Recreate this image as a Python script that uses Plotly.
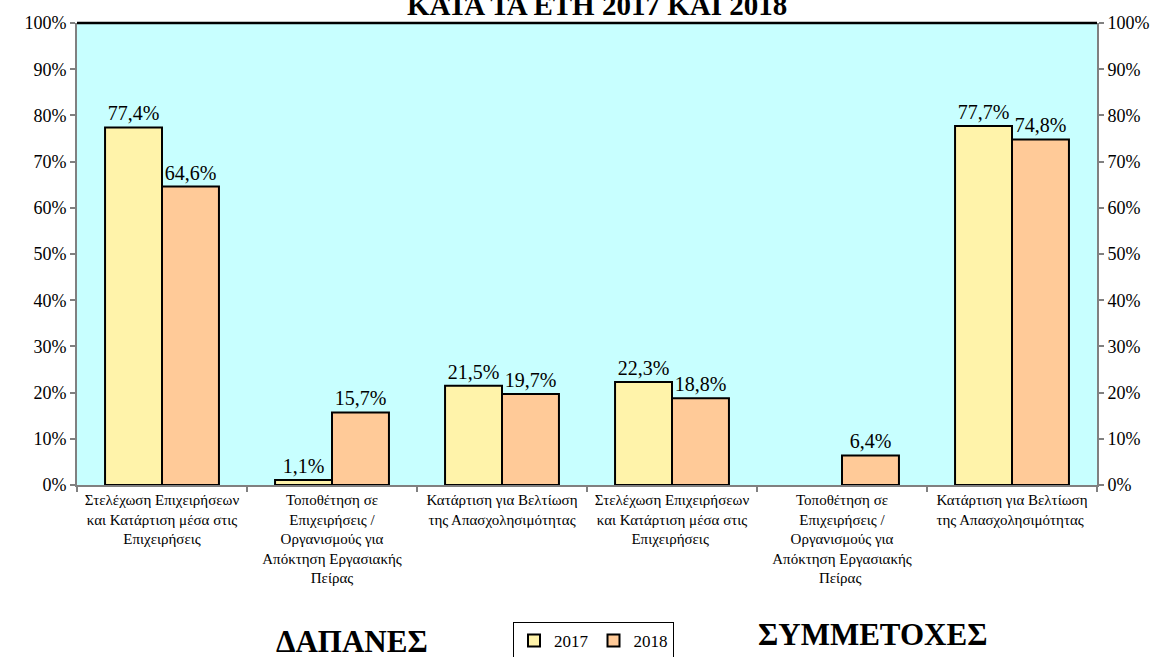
import plotly.graph_objects as go

categories = [
    "Στελέχωση Επιχειρήσεων<br>και Κατάρτιση μέσα στις<br>Επιχειρήσεις",
    "Τοποθέτηση σε<br>Επιχειρήσεις /<br>Οργανισμούς για<br>Απόκτηση Εργασιακής<br>Πείρας",
    "Κατάρτιση για Βελτίωση<br>της Απασχολησιμότητας",
    "Στελέχωση Επιχειρήσεων<br>και Κατάρτιση μέσα στις<br>Επιχειρήσεις ",
    "Τοποθέτηση σε<br>Επιχειρήσεις /<br>Οργανισμούς για<br>Απόκτηση Εργασιακής<br>Πείρας ",
    "Κατάρτιση για Βελτίωση<br>της Απασχολησιμότητας ",
]
values_2017 = [77.4, 1.1, 21.5, 22.3, None, 77.7]
values_2018 = [64.6, 15.7, 19.7, 18.8, 6.4, 74.8]
y_ticks = [0, 10, 20, 30, 40, 50, 60, 70, 80, 90, 100]
y_tick_labels = [f"{v}%" for v in y_ticks]
title_text = "ΚΑΤΑ ΤΑ ΕΤΗ 2017 ΚΑΙ 2018"
group_labels = ["ΔΑΠΑΝΕΣ", "ΣΥΜΜΕΤΟΧΕΣ"]

FONT = "Liberation Serif, Times New Roman, serif"
PW = 1020  # plot width in px (for paper-coordinate conversion)
PH = 462


def fmt(v):
    return "" if v is None else f"{v:.1f}".replace(".", ",") + "%"


fig = go.Figure()
fig.add_trace(go.Bar(
    name="2017", x=categories, y=values_2017,
    marker=dict(color="#FFF3AA", line=dict(color="black", width=2)),
    text=[fmt(v) for v in values_2017], textposition="outside",
    textfont=dict(family=FONT, size=20, color="black"),
    constraintext="none", cliponaxis=False,
))
fig.add_trace(go.Bar(
    name="2018", x=categories, y=values_2018,
    marker=dict(color="#FFCA98", line=dict(color="black", width=2)),
    text=[fmt(v) for v in values_2018], textposition="outside",
    textfont=dict(family=FONT, size=20, color="black"),
    constraintext="none", cliponaxis=False,
))
# invisible trace to carry the right-hand axis
fig.add_trace(go.Bar(x=categories, y=[None] * len(categories), yaxis="y2",
                     showlegend=False, hoverinfo="skip"))

axis_common = dict(
    range=[0, 100], tickvals=y_ticks, ticktext=y_tick_labels,
    ticks="outside", ticklen=5, tickcolor="#808080", tickwidth=1.5,
    showgrid=False, zeroline=False, automargin=False,
    showline=True, linecolor="#808080", linewidth=2,
    tickfont=dict(family=FONT, size=18, color="black"),
)

fig.update_layout(
    width=1166, height=657,
    margin=dict(l=77, r=69, t=23, b=172, autoexpand=False),
    paper_bgcolor="white", plot_bgcolor="#C8FFFF",
    barmode="group", bargap=0.33, bargroupgap=0,
    font=dict(family=FONT, color="black"),
    xaxis=dict(
        type="category", tickson="boundaries", ticks="outside", ticklen=5,
        tickcolor="#808080", tickwidth=1.5, automargin=False,
        showline=True, linecolor="#808080", linewidth=2, showgrid=False,
        tickfont=dict(family=FONT, size=15, color="black"), tickangle=0,
    ),
    yaxis=dict(side="left", **axis_common),
    yaxis2=dict(side="right", overlaying="y", anchor="x", **axis_common),
    legend=dict(
        orientation="h", x=(513 - 77) / PW, y=-(622 - 485) / PH,
        xanchor="left", yanchor="top",
        bordercolor="black", borderwidth=1, bgcolor="white",
        font=dict(family=FONT, size=17, color="black"),
        itemwidth=30, traceorder="normal", tracegroupgap=0,
    ),
    showlegend=True,
    shapes=[dict(type="line", xref="paper", yref="paper", x0=0, x1=1, y0=1, y1=1,
                 line=dict(color="black", width=2.5))],
    annotations=[
        dict(text=f"<b>{title_text}</b>", xref="paper", yref="paper",
             x=(597 - 77) / PW, y=1, xanchor="center", yanchor="bottom", yshift=0,
             showarrow=False, font=dict(family=FONT, size=29, color="black")),
        dict(text=f"<b>{group_labels[0]}</b>", xref="paper", yref="paper",
             x=(352 - 77) / PW, y=-(641 - 485) / PH, xanchor="center", yanchor="middle",
             showarrow=False, font=dict(family=FONT, size=31, color="black")),
        dict(text=f"<b>{group_labels[1]}</b>", xref="paper", yref="paper",
             x=(872 - 77) / PW, y=-(634 - 485) / PH, xanchor="center", yanchor="middle",
             showarrow=False, font=dict(family=FONT, size=31, color="black")),
    ],
)

fig.write_html("out.html", config={"displayModeBar": False},
               post_script="document.body.style.margin='0';")
